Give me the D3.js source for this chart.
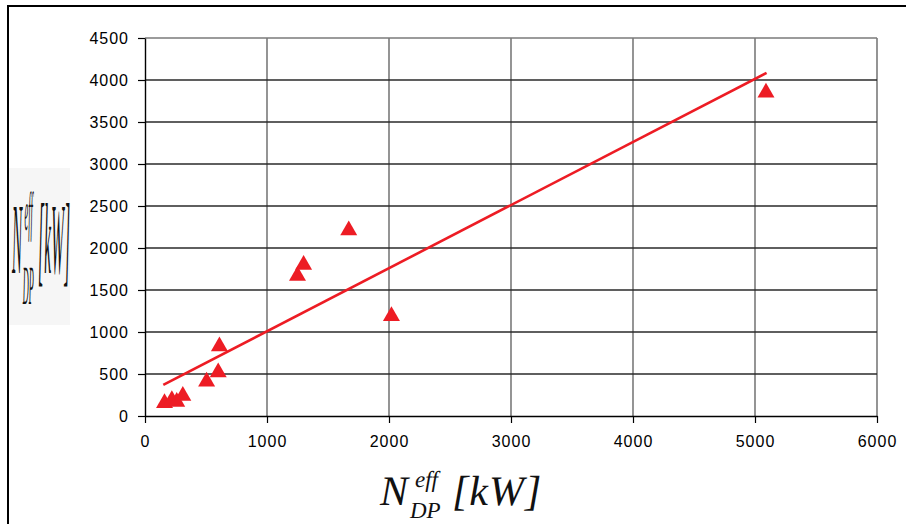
<!DOCTYPE html>
<html>
<head>
<meta charset="utf-8">
<script src="https://cdn.jsdelivr.net/npm/d3@7"></script>
<style>
  body { margin: 0; background: #fff; }
  .tick text { font-family: "Liberation Sans", Arial, sans-serif; font-size: 16px; letter-spacing: 1px; fill: #000; }
  .formula text { text-rendering: geometricPrecision; }
</style>
</head>
<body>
<div id="chart"></div>
<script>
    "use strict";

    //Data
    var effPower = [160, 220, 260, 310, 505, 600, 610, 1250, 1300, 1670, 2020, 5090];
    var dpPower = [155, 190, 170, 240, 410, 520, 830, 1670, 1800, 2210, 1190, 3850];
    var trendX = [150, 5095];
    var trendY = [370, 4085];
    var xTicks = [0, 1000, 2000, 3000, 4000, 5000, 6000];
    var yTicks = [0, 500, 1000, 1500, 2000, 2500, 3000, 3500, 4000, 4500];

(function () {

    //Layout
    var width = 906, height = 524;
    var pLeft = 145, pRight = 877, pTop = 38, pBottom = 416;
    var red = "#ed1c24";

    var svg = d3.select("#chart").append("svg")
        .attr("width", width)
        .attr("height", height);

    var x = d3.scaleLinear().domain([0, 6000]).range([pLeft, pRight]);
    var y = d3.scaleLinear().domain([0, 4500]).range([pBottom, pTop]);

    //Outer frame (runs off the picture on right and bottom)
    svg.append("rect")
        .attr("x", 8).attr("y", 6)
        .attr("width", 1000).attr("height", 1000)
        .attr("fill", "none").attr("stroke", "#000").attr("stroke-width", 2);

    //Grid
    svg.append("g").selectAll("line")
        .data(xTicks.slice(1))
        .enter().append("line")
        .attr("x1", function (d) { return x(d); })
        .attr("x2", function (d) { return x(d); })
        .attr("y1", pTop).attr("y2", pBottom)
        .attr("stroke", "#7a7a7a").attr("stroke-width", 1.6);

    svg.append("g").selectAll("line")
        .data(yTicks.slice(1))
        .enter().append("line")
        .attr("x1", pLeft).attr("x2", pRight)
        .attr("y1", function (d) { return y(d); })
        .attr("y2", function (d) { return y(d); })
        .attr("stroke", function (d) { return d == 4500 ? "#7a7a7a" : "#2a2a2a"; })
        .attr("stroke-width", 1.4);

    //Axes
    var fmt = d3.format("d");
    var xAxis = svg.append("g")
        .attr("transform", "translate(0," + pBottom + ")")
        .call(d3.axisBottom(x).tickValues(xTicks).tickFormat(fmt).tickSize(7).tickPadding(13).tickSizeOuter(0));
    var yAxis = svg.append("g")
        .attr("transform", "translate(" + pLeft + ",0)")
        .call(d3.axisLeft(y).tickValues(yTicks).tickFormat(fmt).tickSize(7).tickPadding(9).tickSizeOuter(0));
    [xAxis, yAxis].forEach(function (a) {
        a.select(".domain").attr("stroke", "#000").attr("stroke-width", 1.4);
        a.selectAll(".tick line").attr("stroke", "#000").attr("stroke-width", 1.2);
        a.attr("font-family", null).attr("font-size", null);
    });

    //Trend line
    svg.append("line")
        .attr("x1", x(trendX[0])).attr("y1", y(trendY[0]))
        .attr("x2", x(trendX[1])).attr("y2", y(trendY[1]))
        .attr("stroke", red).attr("stroke-width", 2.6);

    //Triangle markers
    var tri = d3.symbol().type(d3.symbolTriangle).size(125);
    svg.append("g").selectAll("path")
        .data(effPower)
        .enter().append("path")
        .attr("d", tri)
        .attr("transform", function (d, i) {
            return "translate(" + x(d) + "," + y(dpPower[i]) + ")";
        })
        .attr("fill", red);

    //Axis label formula, drawn at its own origin (baseline of the N)
    function formula(g) {
        var serif = "'Liberation Serif', 'Times New Roman', serif";
        var parts = [
            { t: "N", x: 0, y: 0, s: 42 },
            { t: "eff", x: 35, y: -18, s: 23 },
            { t: "DP", x: 30, y: 13, s: 23 },
            { t: "[kW]", x: 72, y: 0, s: 42 }
        ];
        parts.forEach(function (p) {
            g.append("text")
                .attr("x", p.x).attr("y", p.y)
                .attr("font-family", serif)
                .attr("font-style", "italic")
                .attr("font-size", p.s)
                .attr("letter-spacing", p.s > 30 ? 1 : 0)
                .attr("fill", "#111")
                .text(p.t);
        });
    }

    //Y axis label - squashed copy of the formula on a pale box
    svg.append("rect")
        .attr("x", 9).attr("y", 168)
        .attr("width", 61).attr("height", 157)
        .attr("fill", "#f6f6f6");

    var yl = svg.append("g")
        .attr("class", "formula")
        .attr("transform", "translate(12,273) scale(0.36,2.4)");
    formula(yl);

    //X axis label
    var xl = svg.append("g")
        .attr("class", "formula")
        .attr("transform", "translate(380,505)");
    formula(xl);
})();
</script>
</body>
</html>
